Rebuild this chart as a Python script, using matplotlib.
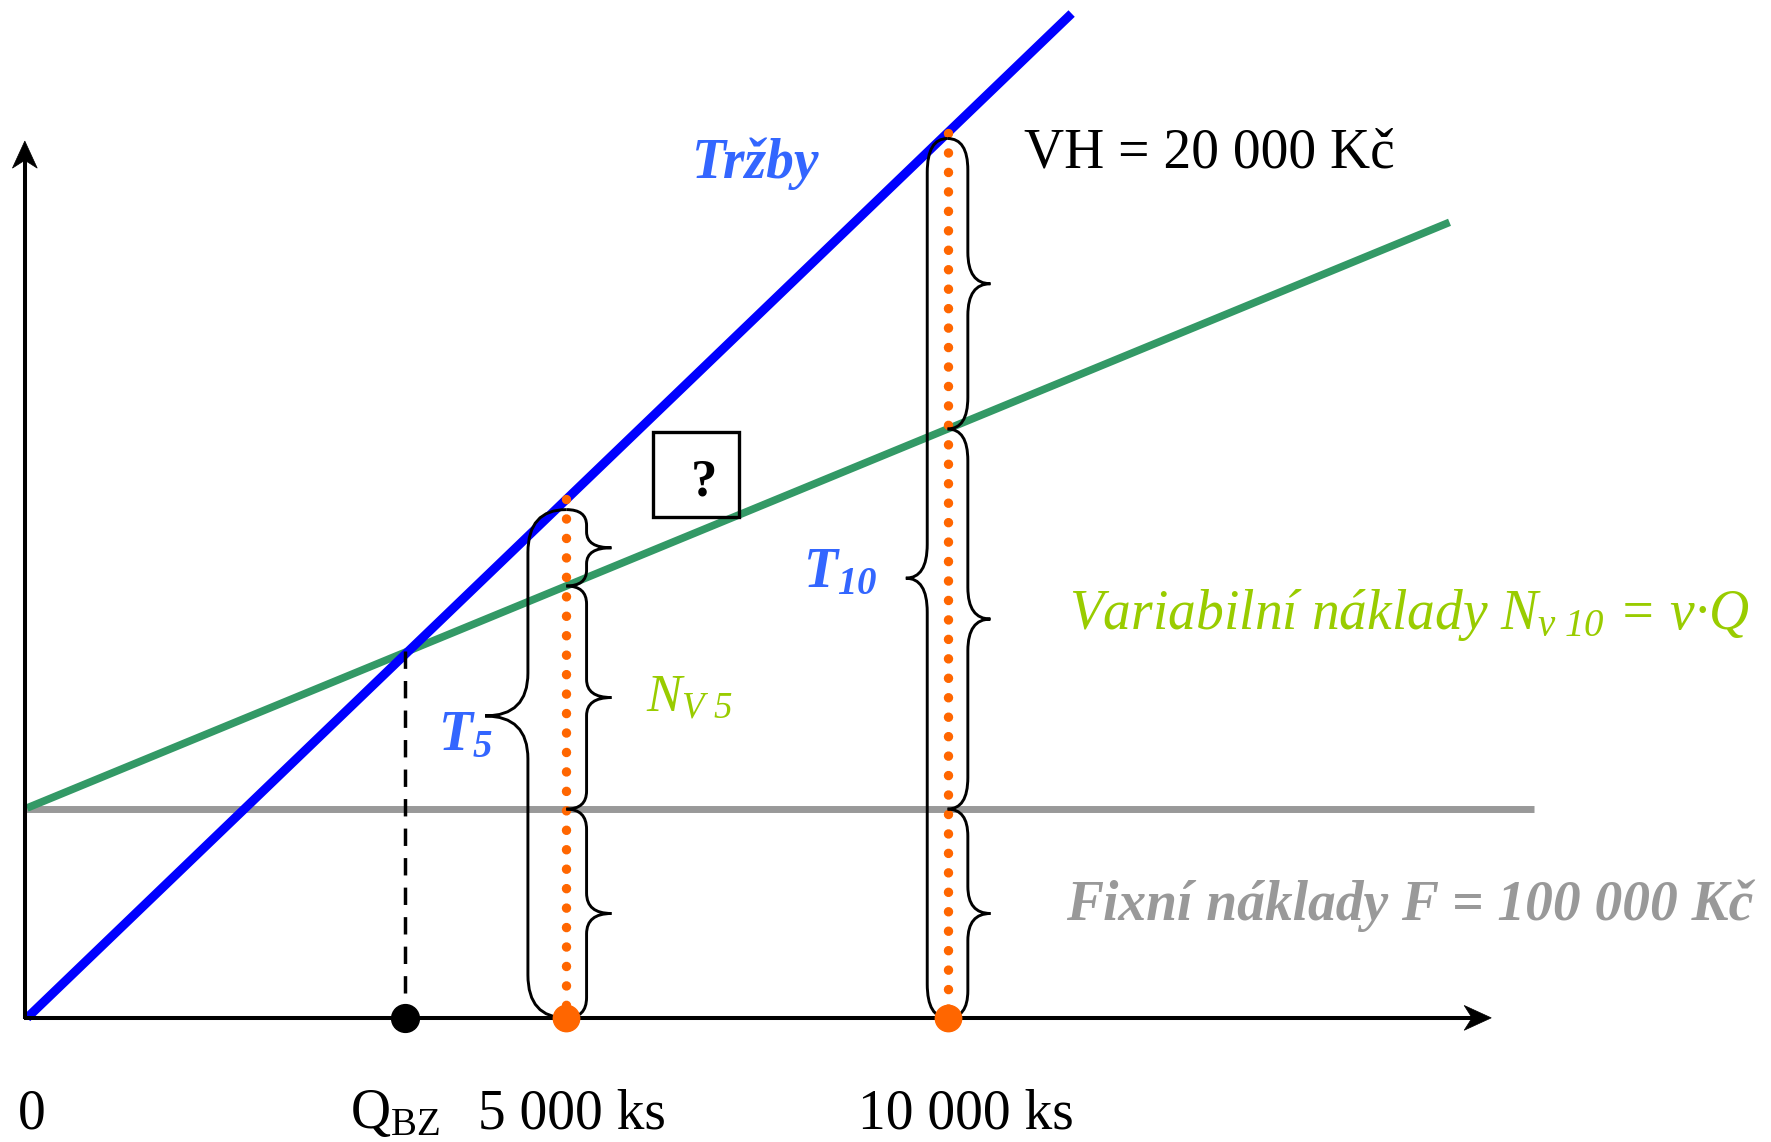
import numpy as np
import matplotlib
matplotlib.use("Agg")
import matplotlib.pyplot as plt
from matplotlib.path import Path
from matplotlib.patches import PathPatch, Rectangle, Polygon

plt.rcParams['font.family'] = ['Liberation Serif', 'DejaVu Serif']
plt.rcParams['mathtext.fontset'] = 'custom'
plt.rcParams['mathtext.rm'] = 'Liberation Serif'
plt.rcParams['mathtext.it'] = 'Liberation Serif:italic'
plt.rcParams['mathtext.sf'] = 'Liberation Serif:italic'
plt.rcParams['mathtext.bf'] = 'Liberation Serif:italic:bold'

# schematic drawing units (origin = axes corner)
sales_x = [0, 926]
sales_y = [0, 890]
cost_x = [0, 1261]
cost_y = [186, 705]
fixed_x = [-2, 1336]
fixed_y = [185, 185]
q_points = [478, 816]          # 5 000 ks, 10 000 ks
axis_x_end = 1298
axis_y_end = 777
tick_labels = ["0", r"$\mathrm{Q}_{\mathrm{BZ}}$", "5 000 ks", "10 000 ks"]

BLUE = "#0000ff"
BLUE_TXT = "#3366ff"
GREEN = "#339966"
GREEN_TXT = "#99cc00"
GRAY = "#999999"
ORANGE = "#ff6600"

s_sales = (sales_y[1] - sales_y[0]) / (sales_x[1] - sales_x[0])
s_cost = (cost_y[1] - cost_y[0]) / (cost_x[1] - cost_x[0])
q_bz = (cost_y[0] - sales_y[0]) / (s_sales - s_cost)
y_bz = s_sales * q_bz


def sales(q):
    return np.interp(q, sales_x, sales_y)


def cost(q):
    return np.interp(q, cost_x, cost_y)


def brace(ax, x, y0, y1, ym, hook, depth, r, side, lw=2.1):
    # side -1 -> "{", +1 -> "}"
    xe = x - side * hook
    xt = x + side * depth
    verts = [(xe, y1), (x, y1), (x, y1 - r),
             (x, ym + r), (x, ym), (xt, ym),
             (x, ym), (x, ym - r),
             (x, y0 + r), (x, y0), (xe, y0)]
    codes = [Path.MOVETO, Path.CURVE3, Path.CURVE3, Path.LINETO,
             Path.CURVE3, Path.CURVE3, Path.CURVE3, Path.CURVE3,
             Path.LINETO, Path.CURVE3, Path.CURVE3]
    ax.add_patch(PathPatch(Path(verts, codes), fill=False, lw=lw,
                           edgecolor='black', zorder=6))


def arrow_axis(ax, x0, y0, x1, y1, length=24, half=11, notch=7):
    d = np.array([x1 - x0, y1 - y0], dtype=float)
    d /= np.hypot(*d)
    n = np.array([-d[1], d[0]])
    tip = np.array([x1, y1])
    back = tip - d * length
    ax.plot([x0, back[0] + d[0] * notch], [y0, back[1] + d[1] * notch],
            color='black', lw=2.9, solid_capstyle='butt', zorder=3)
    pts = [tip, back + n * half, back + d * notch, back - n * half]
    ax.add_patch(Polygon(pts, closed=True, facecolor='black',
                         edgecolor='black', lw=0.5, zorder=3))


fig = plt.figure(figsize=(17.71, 11.42), dpi=100)
ax = fig.add_axes([0, 0, 1, 1])
ax.set_xlim(-24, 1546)
ax.set_ylim(-110, 902)
ax.axis('off')

# axes with arrows
arrow_axis(ax, -2, -1, -2, axis_y_end)
arrow_axis(ax, -3, 0, axis_x_end, 0)

# lines
ax.plot(fixed_x, fixed_y, color=GRAY, lw=5, solid_capstyle='butt', zorder=2)
ax.plot(cost_x, cost_y, color=GREEN, lw=5.5, solid_capstyle='butt', zorder=2)
ax.plot(sales_x, sales_y, color=BLUE, lw=6.5, solid_capstyle='butt', zorder=2)

# break-even point
ax.plot([q_bz - 3, q_bz - 3], [y_bz, 0], color='black', lw=2.5,
        linestyle=(0, (5, 3.5)), zorder=4)
ax.plot([q_bz - 3], [0], 'o', color='black', ms=20, zorder=7)

# orange dotted verticals
for q in q_points:
    ax.plot([q, q], [sales(q), 0], color=ORANGE, lw=6.8,
            linestyle=(0, (0.01, 2.05)), dash_capstyle='round', zorder=5)
    ax.plot([q], [0], 'o', color=ORANGE, ms=19, zorder=7)

# braces at 5 000 ks
q = q_points[0]
top = sales(q) - 9
brace(ax, q - 34, 0, top, 0.594 * top, 34, 38, 38, -1)
brace(ax, q + 18, cost(q), top, (cost(q) + top) / 2, 18, 22, 14, 1)
brace(ax, q + 18, fixed_y[0], cost(q), (cost(q) + fixed_y[0]) / 2, 18, 22, 16, 1)
brace(ax, q + 18, 0, fixed_y[0], fixed_y[0] / 2, 18, 22, 18, 1)

# braces at 10 000 ks
q = q_points[1]
top = sales(q) - 5
brace(ax, q - 18, 0, top, top / 2, 18, 19, 30, -1)
brace(ax, q + 18, cost(q), top, (cost(q) + top) / 2, 18, 20, 28, 1)
brace(ax, q + 18, fixed_y[0], cost(q), (cost(q) + fixed_y[0]) / 2, 18, 20, 28, 1)
brace(ax, q + 18, 0, fixed_y[0], fixed_y[0] / 2, 18, 20, 24, 1)

# question box
ax.add_patch(Rectangle((555, 444), 76, 75, fill=False, lw=2.4,
                       edgecolor='black', zorder=6))
ax.text(600, 474, "?", fontsize=38, fontweight='bold', ha='center',
        va='center', color='black', zorder=7)

# labels
ax.text(589, 744, "Tržby", fontsize=40, fontweight='bold', fontstyle='italic',
        color=BLUE_TXT, va='baseline')
ax.text(884, 754, "VH = 20 000 Kč", fontsize=40, color='black', va='baseline')
ax.text(688, 382, r"$\mathbf{T}_{\mathbf{10}}$", fontsize=40, color=BLUE_TXT,
        va='baseline')
ax.text(364, 237, r"$\mathbf{T}_{\mathbf{5}}$", fontsize=40, color=BLUE_TXT,
        va='baseline')
ax.text(549, 272, r"$N_{\mathsf{V\ 5}}$", fontsize=38, color=GREEN_TXT,
        va='baseline')
ax.text(924, 345, r"Variabilní náklady $N_{\mathsf{v\ 10}}$ = v·Q", fontsize=40,
        fontstyle='italic', color=GREEN_TXT, va='baseline')
ax.text(921, 87, "Fixní náklady F = 100 000 Kč", fontsize=40,
        fontweight='bold', fontstyle='italic', color=GRAY, va='baseline')

tick_pos = [4, q_bz - 12, q_points[0] + 5, q_points[1] + 16]
for x, lab in zip(tick_pos, tick_labels):
    ax.text(x, -98, lab, fontsize=40, color='black', ha='center', va='baseline')

fig.savefig("out.png", dpi=100)
